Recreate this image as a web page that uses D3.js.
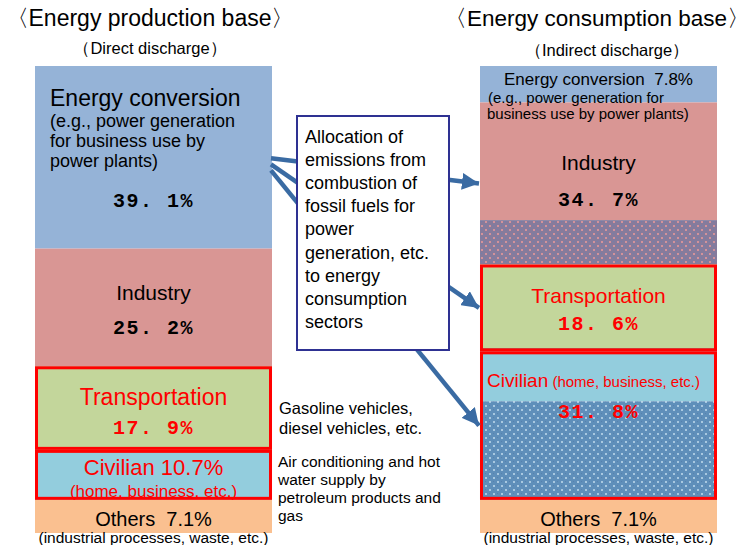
<!DOCTYPE html>
<html>
<head>
<meta charset="utf-8">
<script src="https://cdn.jsdelivr.net/npm/d3@7"></script>
<style>
  body { margin: 0; background: #fff; }
  text { font-family: "Liberation Sans", Arial, sans-serif; }
  .num { font-family: "Liberation Mono", "DejaVu Sans Mono", monospace; font-weight: bold; letter-spacing: 1.5px; }
</style>
</head>
<body>
<div id="chart"></div>
<script>
// CO2 emission shares (%) by sector, direct vs indirect (after allocation)
const sectors = ['Energy conversion', 'Industry', 'Transportation', 'Civilian', 'Others'];
const directShare = [39.1, 25.2, 17.9, 10.7, 7.1];
const indirectShare = [7.8, 34.7, 18.6, 31.8, 7.1];
const bases = ['direct', 'indirect'];
const highlighted = ['Transportation', 'Civilian'];

const width = 751, height = 545;

const svg = d3.select('#chart')
  .append('svg')
  .attr('width', width)
  .attr('height', height);

const x = d3.scaleBand()
  .domain(bases)
  .range([35, 717])
  .paddingInner(0.4674);

const y = d3.scaleLinear()
  .domain([0, 100])
  .range([66, 533]);

const color = d3.scaleOrdinal()
  .domain(sectors)
  .range(['#95b3d7', '#d99694', '#c3d69b', '#93cddd', '#fac090']);

// dotted patterns for the emissions moved over from power generation
const defs = svg.append('defs');
const patterns = {
  'Industry': { base: '#867b9c', dot: '#d3929a', dot2: '#6f7fb0' },
  'Transportation': { base: '#7f9c8e', dot: '#b2c79f', dot2: '#6e8aa8' },
  'Civilian': { base: '#5f8fba', dot: '#a8c8e0', dot2: '#5681ae' }
};
Object.entries(patterns).forEach(([name, p], i) => {
  const pat = defs.append('pattern')
    .attr('id', 'pat' + i)
    .attr('patternUnits', 'userSpaceOnUse')
    .attr('width', 8).attr('height', 8);
  pat.append('rect').attr('width', 8).attr('height', 8).attr('fill', p.base);
  pat.append('rect').attr('x', 1).attr('y', 1).attr('width', 2).attr('height', 2).attr('fill', p.dot);
  pat.append('rect').attr('x', 5).attr('y', 5).attr('width', 2).attr('height', 2).attr('fill', p.dot);
  pat.append('rect').attr('x', 5).attr('y', 1).attr('width', 1).attr('height', 1).attr('fill', p.dot2);
  pat.append('rect').attr('x', 1).attr('y', 5).attr('width', 1).attr('height', 1).attr('fill', p.dot2);
  p.id = 'pat' + i;
});

// build stacked segments
function stack(shares, base) {
  let acc = 0;
  return sectors.map((s, i) => {
    const seg = { sector: s, base: base, start: acc, value: shares[i] };
    acc += shares[i];
    return seg;
  });
}
const leftSegs = stack(directShare, 'direct');
const rightSegs = stack(indirectShare, 'indirect');

// solid / allocated parts of the consumption-base bar
const rightParts = [];
rightSegs.forEach((d, i) => {
  const solid = Math.min(directShare[i], indirectShare[i]);
  const alloc = Math.max(0, indirectShare[i] - directShare[i]);
  rightParts.push({ sector: d.sector, start: d.start, value: solid, alloc: false });
  if (alloc > 0) rightParts.push({ sector: d.sector, start: d.start + solid, value: alloc, alloc: true });
});

svg.selectAll('.lbar')
  .data(leftSegs)
  .enter()
  .append('rect')
  .attr('x', x('direct'))
  .attr('y', d => y(d.start))
  .attr('width', x.bandwidth())
  .attr('height', d => y(d.start + d.value) - y(d.start))
  .attr('fill', d => color(d.sector));

svg.selectAll('.rbar')
  .data(rightParts)
  .enter()
  .append('rect')
  .attr('x', x('indirect'))
  .attr('y', d => y(d.start))
  .attr('width', x.bandwidth())
  .attr('height', d => y(d.start + d.value) - y(d.start))
  .attr('fill', d => d.alloc ? `url(#${patterns[d.sector].id})` : color(d.sector));

// red frames on transportation and civilian
svg.selectAll('.frame')
  .data(leftSegs.concat(rightSegs).filter(d => highlighted.includes(d.sector)))
  .enter()
  .append('rect')
  .attr('x', d => x(d.base) + 1.5)
  .attr('y', d => y(d.start) + 1.5)
  .attr('width', x.bandwidth() - 3)
  .attr('height', d => y(d.start + d.value) - y(d.start) - 3)
  .attr('fill', 'none')
  .attr('stroke', '#ff0000')
  .attr('stroke-width', 3);

// arrows from energy conversion to consumption sectors
defs.append('marker')
  .attr('id', 'head')
  .attr('markerUnits', 'userSpaceOnUse')
  .attr('viewBox', '0 0 10 10')
  .attr('refX', 10).attr('refY', 5)
  .attr('markerWidth', 17).attr('markerHeight', 17)
  .attr('orient', 'auto')
  .append('path')
  .attr('d', 'M0,0 L10,5 L0,10 Z')
  .attr('fill', '#3a6ba3');

const targets = rightSegs.filter(d => ['Industry', 'Transportation', 'Civilian'].includes(d.sector));
const x0 = x('direct') + x.bandwidth() - 1;
svg.selectAll('.arrow')
  .data(targets)
  .enter()
  .append('line')
  .attr('x1', x0)
  .attr('y1', (d, i) => y(directShare[0] / 2) + 1 + i * 6)
  .attr('x2', x('indirect') - 1)
  .attr('y2', d => y(d.start + d.value / 2))
  .attr('stroke', '#3a6ba3')
  .attr('stroke-width', 4.5)
  .attr('marker-end', 'url(#head)');

// explanation box
svg.append('rect')
  .attr('x', 297).attr('y', 116)
  .attr('width', 152).attr('height', 234)
  .attr('fill', '#fff')
  .attr('stroke', '#2e3192')
  .attr('stroke-width', 2);

const boxLines = ['Allocation of', 'emissions from', 'combustion of', 'fossil fuels for', 'power',
  'generation, etc.', 'to energy', 'consumption', 'sectors'];
svg.append('g').selectAll('text')
  .data(boxLines)
  .enter()
  .append('text')
  .attr('x', 305)
  .attr('y', (d, i) => 143 + i * 23.1)
  .style('font-size', '18px')
  .text(d => d);

// titles
function label(xp, yp, txt, size, opts = {}) {
  const t = svg.append('text')
    .attr('x', xp).attr('y', yp)
    .attr('text-anchor', opts.anchor || 'middle')
    .attr('fill', opts.fill || '#000')
    .style('font-size', size + 'px')
    .text(txt);
  if (opts.cls) t.attr('class', opts.cls);
  return t;
}
const cl = x('direct') + x.bandwidth() / 2;
const cr = x('indirect') + x.bandwidth() / 2;
const gap = '\u00a0\u00a0';

label(150, 26, '〈Energy production base〉', 23);
label(150, 54, '（Direct discharge）', 16.5);
label(597, 26, '〈Energy consumption base〉', 22.5);
label(607, 56, '（Indirect discharge）', 16.5);

// left bar labels
label(50, 106, 'Energy conversion', 23, { anchor: 'start' });
label(50, 127, '(e.g., power generation', 18, { anchor: 'start' });
label(50, 147, 'for business use by', 18, { anchor: 'start' });
label(50, 167, 'power plants)', 18, { anchor: 'start' });
label(cl, 207, '39. 1%', 20, { cls: 'num' });
label(cl, 300, 'Industry', 21);
label(cl, 334, '25. 2%', 20, { cls: 'num' });
label(cl, 405, 'Transportation', 23, { fill: '#ff0000' });
label(cl, 434, '17. 9%', 20, { cls: 'num', fill: '#ff0000' });
label(cl, 475, 'Civilian 10.7%', 22, { fill: '#ff0000' });
label(cl, 497, '(home, business, etc.)', 17, { fill: '#ff0000' });
label(cl, 526, 'Others' + gap + '7.1%', 20);
label(cl, 543, '(industrial processes, waste, etc.)', 15.5);

// right bar labels
label(cr, 85, 'Energy conversion' + gap + '7.8%', 17);
label(488, 103, '(e.g., power generation for', 15, { anchor: 'start' });
label(487, 119, 'business use by power plants)', 15, { anchor: 'start' });
label(cr, 170, 'Industry', 21);
label(cr, 206, '34. 7%', 20, { cls: 'num' });
label(cr, 303, 'Transportation', 21, { fill: '#ff0000' });
label(cr, 330, '18. 6%', 20, { cls: 'num', fill: '#ff0000' });
const civ = label(487, 387, 'Civilian', 19, { anchor: 'start', fill: '#ff0000' });
civ.append('tspan').style('font-size', '15px').text(' (home, business, etc.)');
label(cr, 418, '31. 8%', 20, { cls: 'num', fill: '#ff0000' });
label(cr, 526, 'Others' + gap + '7.1%', 20);
label(cr, 543, '(industrial processes, waste, etc.)', 15.5);

// side notes
const notes1 = ['Gasoline vehicles,', 'diesel vehicles, etc.'];
notes1.forEach((t, i) => label(279, 414 + i * 20, t, 16.5, { anchor: 'start' }));
const notes2 = ['Air conditioning and hot', 'water supply by', 'petroleum products and', 'gas'];
notes2.forEach((t, i) => label(278, 467 + i * 18, t, 15.5, { anchor: 'start' }));
</script>
</body>
</html>
